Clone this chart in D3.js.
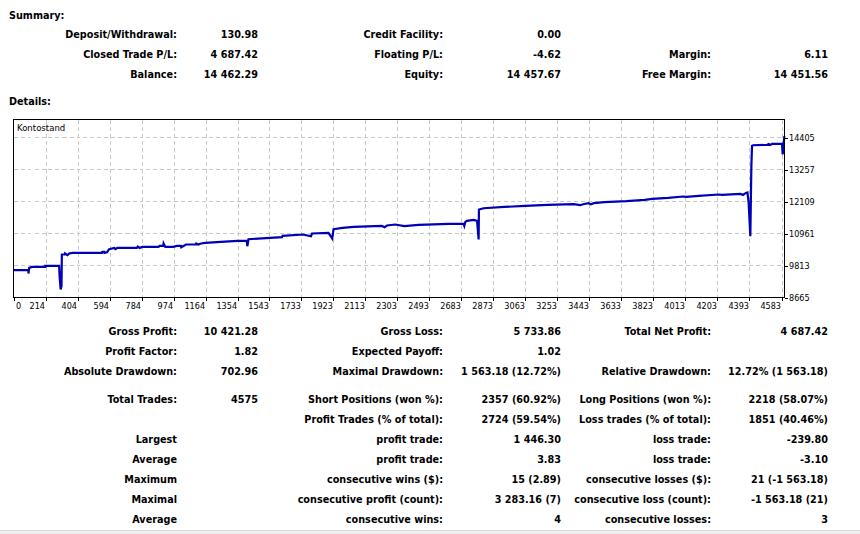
<!DOCTYPE html>
<meta charset="utf-8">
<style>
    body { margin: 0; background: #fff; }
    svg { display: block; font-family: "DejaVu Sans Condensed", "Liberation Sans", Arial, sans-serif; }
    .lbl { font-size: 10.75px; font-weight: bold; fill: #000; }
    .grid line { stroke: #c8c8c8; stroke-dasharray: 4,3; shape-rendering: crispEdges; }
    .axis text { font-size: 9px; fill: #000; font-family: "DejaVu Sans Condensed", sans-serif; }
    .axis line { stroke: #000; shape-rendering: crispEdges; }
</style>
<svg width="860" height="534"></svg>
<script src="https://d3js.org/d3.v7.min.js"></script>
<script>

    var svg = d3.select("svg");

    // summary block: [label, value] per column, three rows
    var summaryCol1 = [["Deposit/Withdrawal:", "130.98"], ["Closed Trade P/L:", "4 687.42"], ["Balance:", "14 462.29"]];
    var summaryCol2 = [["Credit Facility:", "0.00"], ["Floating P/L:", "-4.62"], ["Equity:", "14 457.67"]];
    var summaryCol3 = [["", ""], ["Margin:", "6.11"], ["Free Margin:", "14 451.56"]];

    // details block
    var statsCol1 = [["Gross Profit:", "10 421.28"], ["Profit Factor:", "1.82"], ["Absolute Drawdown:", "702.96"],
        ["Total Trades:", "4575"], ["", ""], ["Largest", ""], ["Average", ""], ["Maximum", ""], ["Maximal", ""], ["Average", ""]];
    var statsCol2 = [["Gross Loss:", "5 733.86"], ["Expected Payoff:", "1.02"], ["Maximal Drawdown:", "1 563.18 (12.72%)"],
        ["Short Positions (won %):", "2357 (60.92%)"], ["Profit Trades (% of total):", "2724 (59.54%)"],
        ["profit trade:", "1 446.30"], ["profit trade:", "3.83"], ["consecutive wins ($):", "15 (2.89)"],
        ["consecutive profit (count):", "3 283.16 (7)"], ["consecutive wins:", "4"]];
    var statsCol3 = [["Total Net Profit:", "4 687.42"], ["", ""], ["Relative Drawdown:", "12.72% (1 563.18)"],
        ["Long Positions (won %):", "2218 (58.07%)"], ["Loss trades (% of total):", "1851 (40.46%)"],
        ["loss trade:", "-239.80"], ["loss trade:", "-3.10"], ["consecutive losses ($):", "21 (-1 563.18)"],
        ["consecutive loss (count):", "-1 563.18 (21)"], ["consecutive losses:", "3"]];

    // balance curve (trade number, balance)
    var tradeNo = [0, 100, 100, 105, 123, 212, 212, 295, 298, 304, 309, 311, 331, 331, 345, 355, 374, 549, 551, 563, 564, 579, 592,
        622, 629, 641, 756, 762, 772, 790, 885, 891, 913, 915, 925, 972, 994, 1018, 1020, 1048, 1107, 1109, 1122, 1137, 1162,
        1255, 1354, 1409, 1412, 1419, 1618, 1621, 1742, 1790, 1796, 1894, 1916, 1924, 1977, 2043, 2211, 2227, 2241, 2290,
        2344, 2429, 2607, 2696, 2700, 2706, 2716, 2755, 2776, 2785, 2787, 2815, 2938, 3062, 3195, 3350, 3389, 3405, 3438,
        3452, 3468, 3532, 3662, 3771, 3815, 3910, 3999, 4018, 4092, 4210, 4230, 4339, 4355, 4369, 4381, 4388, 4398, 4404,
        4408, 4414, 4497, 4507, 4517, 4527, 4586, 4590, 4600];
    var balance = [9644, 9644, 9526, 9727, 9763, 9763, 9798, 9798, 9393, 8952, 9070, 10208, 10208, 10243, 10183, 10243, 10265,
        10265, 10301, 10301, 10265, 10290, 10398, 10444, 10398, 10444, 10444, 10494, 10444, 10480, 10480, 10516, 10516, 10602,
        10480, 10480, 10516, 10516, 10469, 10566, 10566, 10602, 10566, 10602, 10624,
        10660, 10695, 10695, 10505, 10756, 10828, 10875, 10925, 10864, 10961, 10982, 10782, 11115, 11162, 11198, 11234, 11187,
        11248, 11284, 11223, 11270, 11305, 11305, 11234, 11377, 11413, 11449, 11413, 10746, 11822, 11868, 11915, 11951,
        11987, 12012, 11976, 12012, 12048, 12012, 12048, 12084, 12120, 12167, 12203, 12238, 12288, 12274, 12310, 12360,
        12346, 12382, 12346, 12407, 12432, 12048, 10864, 13350, 14103, 14128, 14140, 14175, 14140, 14175, 14175, 13795, 14455];

    var xTicks = [0, 214, 404, 594, 784, 974, 1164, 1354, 1543, 1733, 1923, 2113, 2303, 2493, 2683, 2873, 3063, 3253,
        3443, 3633, 3823, 4013, 4203, 4393, 4583];
    var yTicks = [8665, 9813, 10961, 12109, 13257, 14405];

    // headings
    svg.append("text").attr("class", "lbl").attr("x", 9).attr("y", 18.5).text("Summary:");
    svg.append("text").attr("class", "lbl").attr("x", 9).attr("y", 105).text("Details:");

    function block(rows, labelX, valueX, y0, ys) {
        rows.forEach(function(r, i) {
            var yy = ys ? ys[i] : y0 + i * 20;
            svg.append("text").attr("class", "lbl").attr("x", labelX).attr("y", yy)
                .attr("text-anchor", "end").text(r[0]);
            svg.append("text").attr("class", "lbl").attr("x", valueX).attr("y", yy)
                .attr("text-anchor", "end").text(r[1]);
        });
    }

    block(summaryCol1, 177, 258, 37.5);
    block(summaryCol2, 443, 561, 37.5);
    block(summaryCol3, 711, 828, 37.5);

    var statY = [334.5, 354.5, 374.5, 402.5, 422.5, 442.5, 462.5, 482.5, 502.5, 522.5];
    block(statsCol1, 177, 258, 0, statY);
    block(statsCol2, 443, 561, 0, statY);
    block(statsCol3, 711, 828, 0, statY);

    // chart
    var cLeft = 13.5, cRight = 784.5, cTop = 119.5, cBottom = 297.5;

    var x = d3.scaleLinear()
        .domain([0, 214, 4583])
        .range([cLeft, 45.5, 781.5]);

    var y = d3.scaleLinear()
        .domain([8665, 14405])
        .range([cBottom, 137.5]);

    var chart = svg.append("g");

    chart.append("g").attr("class", "grid")
        .selectAll("line").data(xTicks.slice(1))
        .enter().append("line")
        .attr("x1", function(d) { return Math.round(x(d)) + 0.5; })
        .attr("x2", function(d) { return Math.round(x(d)) + 0.5; })
        .attr("y1", cTop).attr("y2", cBottom);

    chart.append("g").attr("class", "grid")
        .selectAll("line").data(yTicks.slice(1))
        .enter().append("line")
        .attr("y1", function(d) { return y(d); })
        .attr("y2", function(d) { return y(d); })
        .attr("x1", cLeft).attr("x2", cRight);

    chart.append("text")
        .attr("x", 17).attr("y", 131)
        .attr("font-size", "9.5px")
        .text("Kontostand");

    var pts = tradeNo.map(function(t, i) { return [t, balance[i]]; });

    chart.append("path")
        .datum(pts)
        .attr("fill", "none")
        .attr("stroke", "#0000b4")
        .attr("stroke-width", 2.2)
        .attr("d", d3.line().x(function(d) { return x(d[0]); }).y(function(d) { return y(d[1]); }));

    chart.append("rect")
        .attr("x", cLeft).attr("y", cTop)
        .attr("width", cRight - cLeft).attr("height", cBottom - cTop)
        .attr("fill", "none").attr("stroke", "#000")
        .attr("shape-rendering", "crispEdges");

    var xAxis = chart.append("g")
        .attr("class", "axis")
        .attr("transform", "translate(0," + cBottom + ")")
        .call(d3.axisBottom(x).tickValues(xTicks).tickSize(3).tickPadding(2).tickFormat(d3.format("d")));
    xAxis.select(".domain").remove();
    xAxis.selectAll("text")
        .attr("text-anchor", function(d) { return d === 0 ? "start" : "end"; })
        .attr("x", function(d) { return d === 0 ? 2 : -1; });

    var yAxis = chart.append("g")
        .attr("class", "axis")
        .attr("transform", "translate(" + cRight + ",0)")
        .call(d3.axisRight(y).tickValues(yTicks).tickSize(3).tickPadding(1.5).tickFormat(d3.format("d")));
    yAxis.select(".domain").remove();

    // bottom status strip
    svg.append("rect").attr("x", 0).attr("y", 530).attr("width", 860).attr("height", 4).attr("fill", "#f0f0f0");
    svg.append("line").attr("x1", 0).attr("x2", 860).attr("y1", 530.5).attr("y2", 530.5)
        .attr("stroke", "#dcdcdc");

</script>
